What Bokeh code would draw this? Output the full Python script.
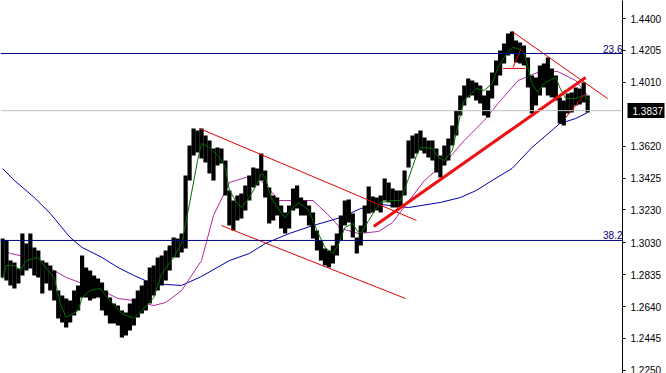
from bokeh.plotting import figure
from bokeh.models import (Range1d, LinearAxis, FixedTicker, PrintfTickFormatter,
                          Label, Span)
from bokeh.embed import file_html
from bokeh.resources import INLINE

# ---- price bars (high / low), one bar per index ----
highs = [1.3056,1.3044,1.2921,1.2909,1.2873,1.3086,1.3025,1.3086,1.3001,1.2983,
         1.2921,1.2909,1.2891,1.2860,1.2738,1.2708,1.2689,1.2677,1.2738,1.2769,
         1.2952,1.2879,1.2860,1.2830,1.2811,1.2787,1.2738,1.2695,1.2659,1.2646,
         1.2616,1.2604,1.2659,1.2689,1.2738,1.2769,1.2799,1.2879,1.2891,1.2940,
         1.2952,1.2983,1.3013,1.3062,1.3056,1.3086,1.3441,1.3624,1.3728,1.3716,
         1.3728,1.3685,1.3655,1.3606,1.3612,1.3606,1.3532,1.3349,1.3288,1.3319,
         1.3331,1.3380,1.3441,1.3490,1.3484,1.3575,1.3471,1.3367,1.3319,1.3306,
         1.3257,1.3215,1.3257,1.3361,1.3380,1.3306,1.3288,1.3257,1.3215,1.3105,
         1.3044,1.2995,1.2983,1.3013,1.3086,1.3196,1.3288,1.3294,1.3209,1.3062,
         1.3135,1.3257,1.3374,1.3312,1.3306,1.3319,1.3422,1.3398,1.3361,1.3349,
         1.3349,1.3471,1.3655,1.3685,1.3697,1.3716,1.3673,1.3655,1.3655,1.3606,
         1.3563,1.3624,1.3667,1.3746,1.3838,1.3930,1.3991,1.4033,1.4021,1.4009,
         1.3991,1.3930,1.3960,1.4070,1.4143,1.4205,1.4247,1.4308,1.4321,1.4266,
         1.4253,1.4235,1.4162,1.4052,1.4040,1.4113,1.4125,1.4162,1.4095,1.4052,
         1.3917,1.3899,1.3942,1.3948,1.3978,1.3972,1.4009,1.3930]
lows = [1.2818,1.2799,1.2769,1.2750,1.2781,1.2830,1.2860,1.2873,1.2830,1.2818,
        1.2720,1.2781,1.2738,1.2677,1.2567,1.2543,1.2512,1.2543,1.2585,1.2616,
        1.2695,1.2695,1.2677,1.2689,1.2695,1.2616,1.2585,1.2537,1.2537,1.2524,
        1.2451,1.2463,1.2494,1.2524,1.2573,1.2598,1.2616,1.2659,1.2708,1.2738,
        1.2769,1.2799,1.2860,1.2940,1.2940,1.2970,1.2995,1.3410,1.3563,1.3581,
        1.3545,1.3520,1.3453,1.3410,1.3502,1.3514,1.3319,1.3135,1.3105,1.3166,
        1.3178,1.3227,1.3288,1.3367,1.3380,1.3410,1.3306,1.3147,1.3166,1.3196,
        1.3117,1.3086,1.3117,1.3227,1.3239,1.3196,1.3196,1.3135,1.3056,1.2983,
        1.2921,1.2891,1.2879,1.2903,1.2952,1.3044,1.3135,1.3154,1.3062,1.2964,
        1.3013,1.3093,1.3209,1.3215,1.3227,1.3215,1.3288,1.3276,1.3245,1.3245,
        1.3245,1.3319,1.3490,1.3545,1.3575,1.3594,1.3575,1.3551,1.3532,1.3459,
        1.3429,1.3502,1.3532,1.3624,1.3685,1.3807,1.3868,1.3917,1.3930,1.3899,
        1.3881,1.3807,1.3795,1.3911,1.3991,1.4052,1.4125,1.4174,1.4186,1.4131,
        1.4125,1.4113,1.3978,1.3820,1.3868,1.3930,1.3978,1.3930,1.3917,1.3899,
        1.3758,1.3746,1.3820,1.3826,1.3868,1.3875,1.3887,1.3826]
bar_idx = list(range(len(highs)))

# ---- moving averages (sampled) ----
ma_fast_x = [0,1,3,4.5,6,9,11,13,14.5,16,19,20,22,24.5,27,30,33,35,38,40,43,45,47,49,50,52,
             54.5,56,57,59,60,62,64,65,66,67.5,69.5,71,73,74.5,77,79,81,83,84.5,86,88,89,90,
             92,94,95,98,100,102,104,105,108,109.5,111,113,114.5,116,119,121,123,124.5,126,
             128,129.5,131,132,133,134.5,136,139,140,141.5,144,146,147.5]
ma_fast_y = [1.2811,1.2891,1.2891,1.2860,1.2921,1.2940,1.2873,1.2818,1.2659,1.2573,1.2616,
             1.2695,1.2738,1.2750,1.2677,1.2598,1.2567,1.2616,1.2695,1.2842,1.2940,1.3025,
             1.3270,1.3532,1.3636,1.3612,1.3551,1.3490,1.3349,1.3270,1.3245,1.3306,1.3392,
             1.3453,1.3429,1.3306,1.3227,1.3184,1.3245,1.3276,1.3227,1.3105,1.3001,1.2964,
             1.3025,1.3123,1.3147,1.3105,1.3086,1.3166,1.3245,1.3276,1.3288,1.3288,1.3422,
             1.3563,1.3612,1.3606,1.3551,1.3532,1.3594,1.3758,1.3899,1.3972,1.3960,1.4003,
             1.4101,1.4162,1.4223,1.4217,1.4192,1.4101,1.4003,1.3948,1.4003,1.4040,1.3978,
             1.3911,1.3911,1.3930,1.3899]
ma_mid_x = [0,2,8,12,16,20,25,29,33,38,41,45,50,53,57,62,64.5,69.5,74,78,82,85,89.5,94.5,98,
            101,106,111,116,121,124.5,129.5,135,139.5,144,147]
ma_mid_y = [1.2983,1.2964,1.2934,1.2873,1.2818,1.2781,1.2738,1.2689,1.2677,1.2646,1.2665,
            1.2738,1.2921,1.3196,1.3398,1.3435,1.3422,1.3288,1.3288,1.3288,1.3196,1.3117,
            1.3086,1.3099,1.3154,1.3251,1.3410,1.3514,1.3655,1.3777,1.3881,1.4021,1.4076,
            1.4076,1.4021,1.3930]
ma_slow_x = [0,3,8,12,17,20,25,29,33,37,41,45,50,57,62,66,72,78,85,90,95,102,110,115,119,123,
             128,133,140,144,147]
ma_slow_y = [1.3484,1.3410,1.3306,1.3209,1.3062,1.3001,1.2940,1.2879,1.2830,1.2787,1.2775,
             1.2769,1.2824,1.2921,1.2964,1.3025,1.3086,1.3135,1.3184,1.3239,1.3264,1.3245,
             1.3276,1.3306,1.3349,1.3410,1.3484,1.3612,1.3758,1.3789,1.3826]

# ---- trend lines (x0, y0, x1, y1) ----
trend_thin_x0 = [49.5, 55.0, 128.0, 125.75, 128.25, 141.5]
trend_thin_y0 = [1.3728, 1.3135, 1.4321, 1.4095, 1.4101, 1.3795]
trend_thin_x1 = [104.0, 101.25, 152.0, 131.25, 130.25, 146.5]
trend_thin_y1 = [1.3166, 1.2689, 1.3911, 1.4095, 1.4217, 1.3942]
trend_thick_x = [93.25, 146.5]
trend_thick_y = [1.3129, 1.4040]

# ---- levels and axis ----
fib_levels = [1.4186, 1.3044]
fib_labels = ["23.6", "38.2"]
last_price = 1.3837
tick_values = [1.4400, 1.4205, 1.4010, 1.3620, 1.3425, 1.3230, 1.3030,
               1.2835, 1.2640, 1.2445, 1.2250]

FONT = "Liberation Sans"

p = figure(width=666, height=373, output_backend="svg", toolbar_location=None,
           x_range=Range1d(-0.5, 155.75), y_range=Range1d(1.2231, 1.4510),
           y_axis_location="right", min_border_left=0, min_border_top=0,
           min_border_bottom=0, min_border_right=41)
p.xaxis.visible = False
p.grid.visible = False
p.outline_line_color = None
p.background_fill_color = "white"

yax = p.yaxis[0]
yax.ticker = FixedTicker(ticks=tick_values)
yax.formatter = PrintfTickFormatter(format="%.4f")
yax.major_label_text_font = FONT
yax.major_label_text_font_size = "10px"
yax.major_label_text_color = "black"
yax.axis_line_color = "black"
yax.major_tick_line_color = "black"
yax.major_tick_out = 3
yax.major_tick_in = 0
yax.minor_tick_line_color = None
yax.major_label_standoff = 5

# second right axis: current-price marker (black box with white value)
pax = LinearAxis(ticker=FixedTicker(ticks=[last_price]),
                 formatter=PrintfTickFormatter(format="%.4f"))
pax.axis_line_color = None
pax.minor_tick_line_color = None
pax.major_tick_out = 0
pax.major_tick_in = 37
pax.major_tick_line_color = "black"
pax.major_tick_line_width = 15
pax.major_tick_line_cap = "butt"
pax.major_label_standoff = -32
pax.major_label_text_font = FONT
pax.major_label_text_font_size = "10px"
pax.major_label_text_color = "white"
p.add_layout(pax, "right")

# horizontal levels
p.add_layout(Span(location=last_price, dimension="width", line_color="#c0c0c0", line_width=1))
for lv in fib_levels:
    p.add_layout(Span(location=lv, dimension="width", line_color="#000080", line_width=1))

# moving averages
p.line(ma_slow_x, ma_slow_y, line_color="#0000b0", line_width=1)
p.line(ma_mid_x, ma_mid_y, line_color="#b02aa0", line_width=1)

# price bars
p.segment(x0=bar_idx, y0=lows, x1=bar_idx, y1=highs, line_color="black", line_width=4.2)

p.line(ma_fast_x, ma_fast_y, line_color="#007000", line_width=1)

# trend lines
p.segment(x0=trend_thin_x0, y0=trend_thin_y0, x1=trend_thin_x1, y1=trend_thin_y1,
          line_color="#e00000", line_width=1)
p.line(trend_thick_x, trend_thick_y, line_color="#ee1010", line_width=3)

# fib labels
for lv, txt in zip(fib_levels, fib_labels):
    p.add_layout(Label(x=622, y=lv, x_units="screen", y_units="data", text=txt,
                       text_align="right", text_baseline="bottom", y_offset=1,
                       text_font=FONT, text_font_size="10px", text_color="#000080"))

open("out.html", "w").write(file_html(p, INLINE))
